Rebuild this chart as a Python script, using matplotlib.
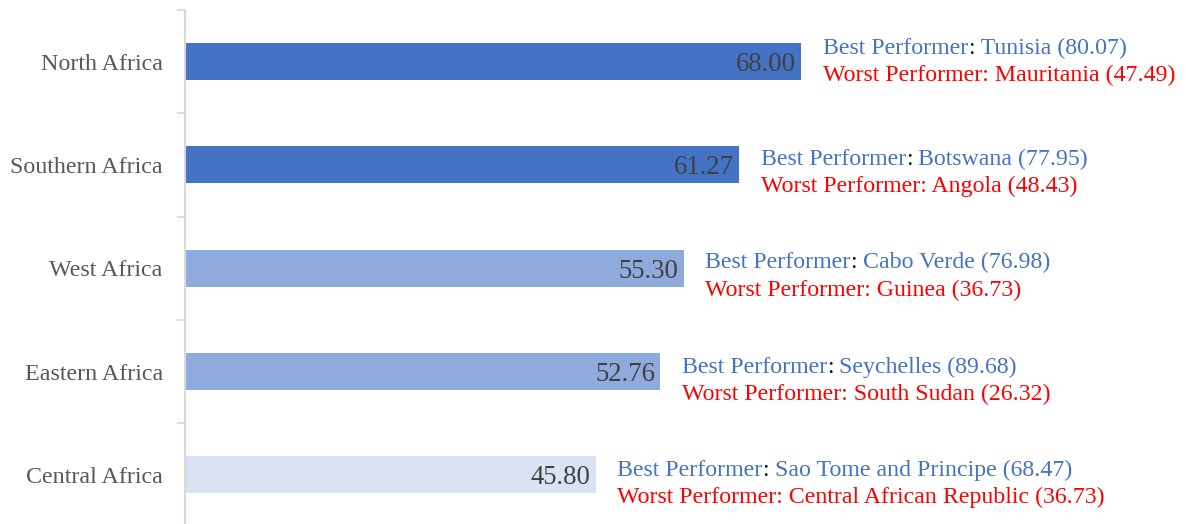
import matplotlib.pyplot as plt

plt.rcParams['font.family'] = ['Liberation Serif', 'DejaVu Serif']

regions = ['North Africa', 'Southern Africa', 'West Africa', 'Eastern Africa', 'Central Africa']
scores = [68.00, 61.27, 55.30, 52.76, 45.80]
best = ['Tunisia (80.07)', 'Botswana (77.95)', 'Cabo Verde (76.98)',
        'Seychelles (89.68)', 'Sao Tome and Principe (68.47)']
worst = ['Mauritania (47.49)', 'Angola (48.43)', 'Guinea (36.73)',
         'South Sudan (26.32)', 'Central African Republic (36.73)']
bar_colors = ['#4472C4', '#4472C4', '#8FAADC', '#8FAADC', '#DAE3F3']

# labels were nudged down a bit on every row except the first (pixels)
note_shift = [0, 8, 8, 9, 9]

blue = '#4472C4'
red = '#FF0000'

fig = plt.figure(figsize=(11.86, 5.24), dpi=100)
ax = fig.add_axes([185 / 1186, 0, 1001 / 1186, 514 / 524])

ypos = list(range(len(regions)))
ax.barh(ypos, scores, height=0.358, color=bar_colors)

ax.set_xlim(1.5, 109.5)
ax.set_ylim(4.476, -0.5)

# value labels inside bars
for y, v in zip(ypos, scores):
    ax.annotate(f'{v:.2f}', xy=(v, y), xytext=(-3.6, -6.8), textcoords='offset points',
                ha='right', va='baseline', fontsize=19.3, color='#404040')

# best / worst performer notes
fs = 17.2
px = 72 / 100
for y, v, b, w, sh in zip(ypos, scores, best, worst, note_shift):
    yb = (8 - sh) * px
    yw = (8 - sh - 27.5) * px
    t1 = ax.annotate('Best Performer', xy=(v, y), xytext=(15.5, yb), textcoords='offset points',
                     ha='left', va='baseline', fontsize=fs, color=blue)
    t2 = ax.annotate(':', xy=(1, 0), xycoords=t1, ha='left', va='bottom', fontsize=fs, color='black')
    ax.annotate(' ' + b, xy=(1, 0), xycoords=t2, ha='left', va='bottom', fontsize=fs, color=blue)
    ax.annotate('Worst Performer: ' + w, xy=(v, y), xytext=(15.5, yw), textcoords='offset points',
                ha='left', va='baseline', fontsize=fs, color=red)

# axes styling
for s in ['top', 'right', 'bottom']:
    ax.spines[s].set_visible(False)
ax.spines['left'].set_color('#D9D9D9')
ax.spines['left'].set_linewidth(1.5)
ax.set_xticks([])

ax.set_yticks([-0.5, 0.5, 1.5, 2.5, 3.5])
ax.set_yticklabels([])
ax.tick_params(axis='y', which='major', length=5.8, color='#D9D9D9', width=1.2)
ax.set_yticks(ypos, minor=True)
ax.set_yticklabels(regions, minor=True, fontsize=17.3, color='#595959')
ax.tick_params(axis='y', which='minor', length=0, pad=16)

fig.savefig('out.png', dpi=100)
